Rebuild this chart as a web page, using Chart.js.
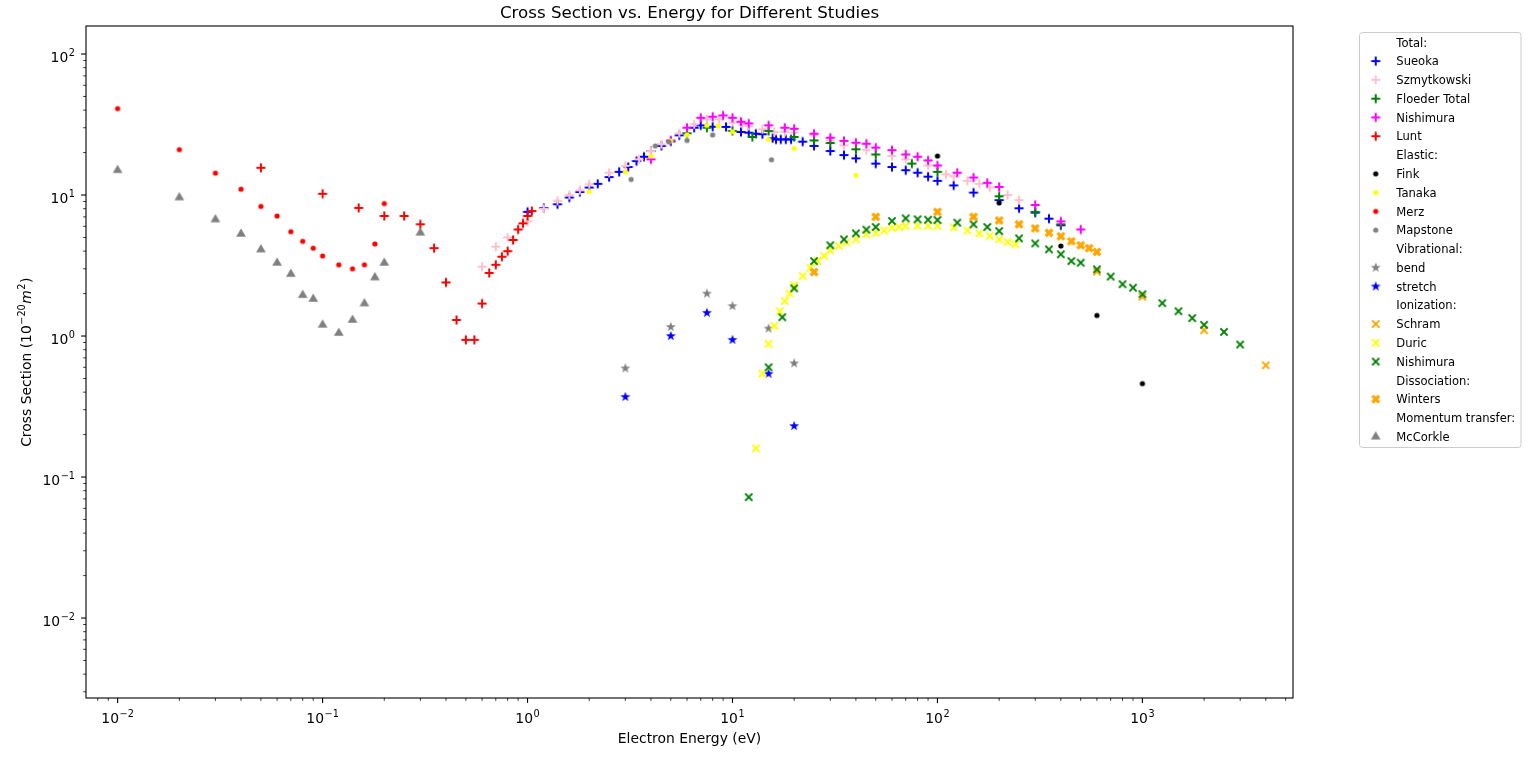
<!DOCTYPE html>
<html>
<head>
<meta charset="utf-8">
<title>Cross Section vs. Energy</title>
<script src="https://cdn.jsdelivr.net/npm/chart.js@4.4.1/dist/chart.umd.min.js"></script>
<style>
  html, body { margin: 0; padding: 0; background: #fff; }
  #wrap { width: 1536px; height: 762px; }
</style>
</head>
<body>
<div id="wrap"><canvas id="chart" width="1536" height="762"></canvas></div>
<script>
// ---- data (energy in eV, cross section in 1e-20 m^2) ----
const sueokaE = [1.0, 1.2, 1.4, 1.6, 1.8, 2.0, 2.2, 2.5, 2.8, 3.1, 3.4, 3.7, 4.0, 4.5, 5.0, 5.5, 6.5, 7.0, 8.0, 9.3, 11, 12, 13, 14, 15.7, 16.3, 17.2, 18.2, 19.3, 22, 25, 30, 35, 40, 50, 60, 70, 80, 90, 100, 120, 150, 200, 250, 300, 350, 400];
const sueokaQ = [7.6, 8.1, 8.6, 9.6, 10.5, 11.3, 12.0, 13.4, 14.6, 15.8, 17.4, 18.7, 20.5, 22.3, 24.0, 26.5, 30.0, 31.2, 30.5, 30.4, 28.0, 27.7, 27.2, 27.0, 25.3, 24.8, 24.8, 24.8, 24.8, 23.9, 22.3, 20.5, 19.2, 18.2, 16.7, 15.8, 15.0, 14.4, 13.5, 12.6, 11.7, 10.4, 9.2, 8.05, 7.5, 6.8, 6.1];

const szmytE = [0.6, 0.7, 0.8, 1.0, 1.2, 1.4, 1.6, 1.8, 2.0, 2.5, 3.0, 3.5, 4.0, 4.5, 5.5, 6.5, 7.5, 8.6, 10, 11.2, 12, 14, 16, 18, 20, 25, 30, 35, 45, 60, 70, 90, 110, 120, 140, 160, 180, 220, 250];
const szmytQ = [3.1, 4.3, 5.0, 6.5, 8.0, 9.1, 10.0, 10.8, 11.9, 14.4, 16.1, 17.9, 20.5, 22.9, 27.4, 31.7, 34.4, 34.4, 32.6, 31.7, 30.9, 29.3, 28.0, 28.0, 27.7, 26.5, 24.4, 22.5, 20.8, 18.9, 17.9, 16.2, 14.0, 13.6, 12.6, 12.0, 11.3, 10.0, 9.2];

const floederE = [6, 7.5, 10, 12.5, 15, 20, 25, 30, 40, 50, 75, 100, 200, 300, 400];
const floederQ = [27.4, 30, 28.5, 25.8, 28.5, 25.8, 24.4, 23.4, 21.1, 19.4, 16.7, 14.6, 9.8, 7.6, 6.2];

const nishTotE = [4, 5, 6, 7, 8, 9, 10, 11, 12, 15, 18, 20, 25, 30, 35, 40, 45, 50, 60, 70, 80, 90, 100, 125, 150, 175, 200, 300, 400, 500];
const nishTotQ = [17.9, 24.4, 30, 35.3, 35.9, 36.7, 35.3, 33.1, 32.2, 31.2, 30, 29.5, 27.2, 25.5, 24.2, 23.5, 23.1, 21.7, 20.8, 19.4, 18.7, 17.6, 16.2, 14.4, 13.3, 12.2, 11.4, 8.5, 6.5, 5.7];

const luntE = [0.05, 0.1, 0.15, 0.2, 0.25, 0.3, 0.35, 0.4, 0.45, 0.5, 0.55, 0.6, 0.65, 0.7, 0.75, 0.8, 0.85, 0.9, 0.95, 1.0, 1.05];
const luntQ = [15.6, 10.2, 8.1, 7.1, 7.1, 6.2, 4.2, 2.4, 1.3, 0.94, 0.94, 1.7, 2.8, 3.2, 3.65, 4.0, 4.8, 5.7, 6.3, 7.1, 7.7];

const finkE = [100, 200, 400, 600, 1000];
const finkQ = [18.9, 8.8, 4.35, 1.4, 0.46];

const tanakaE = [2, 3, 4, 5, 6, 7.5, 8.5, 10, 15, 20, 40];
const tanakaQ = [10.6, 14.6, 18.9, 24.2, 26.7, 31.2, 30.9, 28.1, 24.8, 21.4, 13.8];

const merzE = [0.01, 0.02, 0.03, 0.04, 0.05, 0.06, 0.07, 0.08, 0.09, 0.1, 0.12, 0.14, 0.16, 0.18, 0.2];
const merzQ = [41, 21, 14.3, 11, 8.3, 7.1, 5.5, 4.7, 4.2, 3.7, 3.2, 3.0, 3.2, 4.5, 8.7];

const mapstoneE = [3.2, 4.2, 4.9, 6, 8, 15.5];
const mapstoneQ = [12.9, 22.3, 23.8, 24.4, 26.7, 17.8];

const bendE = [3, 5, 7.5, 10, 15, 20];
const bendQ = [0.59, 1.16, 2.0, 1.63, 1.13, 0.64];

const stretchE = [3, 5, 7.5, 10, 15, 20];
const stretchQ = [0.37, 1.0, 1.46, 0.94, 0.54, 0.23];

const schramE = [600, 1000, 2000, 4000];
const schramQ = [2.86, 1.9, 1.1, 0.62];

const duricE = [13, 14, 15, 16, 17, 18, 19, 20, 22, 24, 26, 28, 30, 33, 36, 40, 45, 50, 55, 60, 65, 70, 80, 90, 100, 120, 140, 160, 180, 200, 220, 240];
const duricQ = [0.16, 0.54, 0.88, 1.18, 1.5, 1.77, 2.0, 2.3, 2.66, 3.05, 3.4, 3.7, 4.05, 4.35, 4.6, 4.85, 5.26, 5.4, 5.6, 5.86, 5.93, 6.03, 6.03, 6.03, 6.03, 5.9, 5.6, 5.34, 5.12, 4.85, 4.64, 4.47];

const nishIonE = [12, 15, 17.5, 20, 25, 30, 35, 40, 45, 50, 60, 70, 80, 90, 100, 125, 150, 175, 200, 250, 300, 350, 400, 450, 500, 600, 700, 800, 900, 1000, 1250, 1500, 1750, 2000, 2500, 3000];
const nishIonQ = [0.072, 0.60, 1.36, 2.18, 3.40, 4.40, 4.85, 5.35, 5.68, 5.93, 6.54, 6.83, 6.73, 6.68, 6.65, 6.37, 6.2, 5.93, 5.55, 4.93, 4.54, 4.12, 3.80, 3.40, 3.31, 2.97, 2.64, 2.33, 2.2, 1.98, 1.71, 1.50, 1.34, 1.20, 1.07, 0.87];

const wintersE = [25, 50, 100, 150, 200, 250, 300, 350, 400, 450, 500, 550, 600];
const wintersQ = [2.84, 7.0, 7.6, 7.0, 6.6, 6.2, 5.8, 5.4, 5.1, 4.7, 4.4, 4.2, 3.95];

const mccorkleE = [0.01, 0.02, 0.03, 0.04, 0.05, 0.06, 0.07, 0.08, 0.09, 0.1, 0.12, 0.14, 0.16, 0.18, 0.2, 0.3];
const mccorkleQ = [15, 9.6, 6.7, 5.3, 4.1, 3.3, 2.75, 1.95, 1.83, 1.2, 1.05, 1.3, 1.7, 2.6, 3.3, 5.4];

const xTickExps = [-2, -1, 0, 1, 2, 3];
const yTickExps = [-2, -1, 0, 1, 2];

// ---- marker sprites (matplotlib-like) ----
function marker(kind, color) {
  const c = document.createElement('canvas');
  c.width = 16; c.height = 16;
  const g = c.getContext('2d');
  g.translate(8, 8);
  g.fillStyle = color;
  g.strokeStyle = color;
  g.beginPath();
  if (kind === 'plus') {
    g.lineWidth = 2;
    g.moveTo(-4.5, 0); g.lineTo(4.5, 0);
    g.moveTo(0, -4.5); g.lineTo(0, 4.5);
    g.stroke();
  } else if (kind === 'x') {
    g.lineWidth = 2;
    g.moveTo(-3.6, -3.6); g.lineTo(3.6, 3.6);
    g.moveTo(-3.6, 3.6); g.lineTo(3.6, -3.6);
    g.stroke();
  } else if (kind === 'X') {
    g.lineWidth = 3.4;
    g.moveTo(-3.4, -3.4); g.lineTo(3.4, 3.4);
    g.moveTo(-3.4, 3.4); g.lineTo(3.4, -3.4);
    g.stroke();
  } else if (kind === 'dot') {
    g.arc(0, 0, 2.6, 0, Math.PI * 2);
    g.fill();
  } else if (kind === 'tri') {
    const r = 5.6;
    g.moveTo(0, -r);
    g.lineTo(r * Math.sin(Math.PI / 3), r / 2);
    g.lineTo(-r * Math.sin(Math.PI / 3), r / 2);
    g.closePath();
    g.fill();
  } else if (kind === 'star') {
    for (let i = 0; i < 10; i++) {
      const rr = i % 2 ? 2.1 : 5.2;
      const a = -Math.PI / 2 + i * Math.PI / 5;
      if (i === 0) g.moveTo(rr * Math.cos(a), rr * Math.sin(a));
      else g.lineTo(rr * Math.cos(a), rr * Math.sin(a));
    }
    g.closePath();
    g.fill();
  }
  return c;
}

// legend order = plotting order
const series = [
  { head: 'Total:' },
  { label: 'Sueoka', e: sueokaE, q: sueokaQ, kind: 'plus', color: '#0000ff' },
  { label: 'Szmytkowski', e: szmytE, q: szmytQ, kind: 'plus', color: '#ffc0cb' },
  { label: 'Floeder Total', e: floederE, q: floederQ, kind: 'plus', color: '#008000' },
  { label: 'Nishimura', e: nishTotE, q: nishTotQ, kind: 'plus', color: '#ff00ff' },
  { label: 'Lunt', e: luntE, q: luntQ, kind: 'plus', color: '#ff0000' },
  { head: 'Elastic:' },
  { label: 'Fink', e: finkE, q: finkQ, kind: 'dot', color: '#000000' },
  { label: 'Tanaka', e: tanakaE, q: tanakaQ, kind: 'dot', color: '#ffff00' },
  { label: 'Merz', e: merzE, q: merzQ, kind: 'dot', color: '#ff0000' },
  { label: 'Mapstone', e: mapstoneE, q: mapstoneQ, kind: 'dot', color: '#808080' },
  { head: 'Vibrational:' },
  { label: 'bend', e: bendE, q: bendQ, kind: 'star', color: '#808080' },
  { label: 'stretch', e: stretchE, q: stretchQ, kind: 'star', color: '#0000ff' },
  { head: 'Ionization:' },
  { label: 'Schram', e: schramE, q: schramQ, kind: 'x', color: '#ffa500' },
  { label: 'Duric', e: duricE, q: duricQ, kind: 'x', color: '#ffff00' },
  { label: 'Nishimura', e: nishIonE, q: nishIonQ, kind: 'x', color: '#008000' },
  { head: 'Dissociation:' },
  { label: 'Winters', e: wintersE, q: wintersQ, kind: 'X', color: '#ffa500' },
  { head: 'Momentum transfer:' },
  { label: 'McCorkle', e: mccorkleE, q: mccorkleQ, kind: 'tri', color: '#808080' }
];
series.forEach(s => { if (!s.head) s.sprite = marker(s.kind, s.color); });

const plotted = series.filter(s => !s.head);
const datasets = plotted.map((s, i) => ({
  label: s.label,
  data: s.e.map((x, j) => ({ x: x, y: s.q[j] })),
  pointStyle: s.sprite,
  pointRadius: 5,
  pointHoverRadius: 5,
  showLine: false,
  order: plotted.length - i   // later series drawn on top, like matplotlib
}));

const FONT = '"DejaVu Sans", "Liberation Sans", sans-serif';

function powLabel(ctx, exp, x, y, align) {
  const base = '10';
  const sup = exp < 0 ? '\u2212' + (-exp) : String(exp);
  ctx.font = '13.9px ' + FONT;
  const wb = ctx.measureText(base).width;
  ctx.font = '9.7px ' + FONT;
  const ws = ctx.measureText(sup).width;
  const total = wb + ws + 0.6;
  const left = align === 'center' ? x - total / 2 : x - total;
  ctx.textAlign = 'left';
  ctx.textBaseline = 'alphabetic';
  ctx.font = '13.9px ' + FONT;
  ctx.fillText(base, left, y);
  ctx.font = '9.7px ' + FONT;
  ctx.fillText(sup, left + wb + 0.6, y - 5.6);
}

const decor = {
  id: 'decor',
  afterDraw(chart) {
    const ctx = chart.ctx;
    const area = chart.chartArea;
    const xs = chart.scales.x, ys = chart.scales.y;
    ctx.save();
    ctx.fillStyle = '#000';
    ctx.strokeStyle = '#000';

    // frame
    ctx.lineWidth = 1.1;
    ctx.strokeRect(area.left, area.top, area.right - area.left, area.bottom - area.top);

    // ticks
    const tick = (px, isX, len, w) => {
      ctx.lineWidth = w;
      ctx.beginPath();
      if (isX) { ctx.moveTo(px, area.bottom); ctx.lineTo(px, area.bottom + len); }
      else { ctx.moveTo(area.left, px); ctx.lineTo(area.left - len, px); }
      ctx.stroke();
    };
    for (let d = -3; d <= 4; d++) {
      for (let m = 1; m <= 9; m++) {
        const v = m * Math.pow(10, d);
        if (v >= xs.min && v <= xs.max) tick(xs.getPixelForValue(v), true, m === 1 ? 4.9 : 2.8, m === 1 ? 1.1 : 0.8);
        if (v >= ys.min && v <= ys.max) tick(ys.getPixelForValue(v), false, m === 1 ? 4.9 : 2.8, m === 1 ? 1.1 : 0.8);
      }
    }
    xTickExps.forEach(e => powLabel(ctx, e, xs.getPixelForValue(Math.pow(10, e)), area.bottom + 25, 'center'));
    yTickExps.forEach(e => powLabel(ctx, e, 75, ys.getPixelForValue(Math.pow(10, e)) + 8, 'right'));

    // axis titles
    const cx = (area.left + area.right) / 2;
    ctx.textAlign = 'center';
    ctx.textBaseline = 'alphabetic';
    ctx.font = '13.9px ' + FONT;
    ctx.fillText('Electron Energy (eV)', cx, 743);
    ctx.font = '16.67px ' + FONT;
    ctx.fillText('Cross Section vs. Energy for Different Studies', cx, 18);

    // y title with mathtext-like pieces
    const parts = [
      ['Cross Section (10', '13.9px ' + FONT, 0],
      ['\u221220', '9.7px ' + FONT, -5.6],
      ['m', 'oblique 13.9px ' + FONT, 0],
      ['2', '9.7px ' + FONT, -5.6],
      [')', '13.9px ' + FONT, 0]
    ];
    let tw = 0;
    parts.forEach(p => { ctx.font = p[1]; p.push(ctx.measureText(p[0]).width); tw += p[3] + 0.5; });
    ctx.translate(31, (area.top + area.bottom) / 2);
    ctx.rotate(-Math.PI / 2);
    ctx.textAlign = 'left';
    let px = -tw / 2;
    parts.forEach(p => { ctx.font = p[1]; ctx.fillText(p[0], px, p[2]); px += p[3] + 0.5; });
    ctx.setTransform(1, 0, 0, 1, 0, 0);

    // legend
    const lx = 1359.5, ly = 32.5, lw = 161.5, lh = 415;
    ctx.beginPath();
    ctx.roundRect(lx, ly, lw, lh, 3);
    ctx.fillStyle = 'rgba(255,255,255,0.8)';
    ctx.fill();
    ctx.strokeStyle = '#cccccc';
    ctx.lineWidth = 1;
    ctx.stroke();
    ctx.fillStyle = '#000';
    ctx.font = '11.57px ' + FONT;
    ctx.textAlign = 'left';
    const rowGap = (436.7 - 42.3) / (series.length - 1);
    series.forEach((s, i) => {
      const y = 42.3 + i * rowGap;
      if (s.sprite) ctx.drawImage(s.sprite, 1375.7 - 8, y - 8);
      ctx.fillText(s.head || s.label, 1396.3, y + 4.2);
    });
    ctx.restore();
  }
};

new Chart(document.getElementById('chart'), {
  type: 'scatter',
  data: { datasets: datasets },
  options: {
    responsive: false,
    animation: false,
    devicePixelRatio: 1,
    events: [],
    layout: { padding: { left: 86, right: 243, top: 26, bottom: 64 } },
    plugins: {
      legend: { display: false },
      tooltip: { enabled: false },
      title: { display: false }
    },
    scales: {
      x: { type: 'logarithmic', display: false, min: 0.00701, max: 5430 },
      y: { type: 'logarithmic', display: false, min: 0.00271, max: 158 }
    }
  },
  plugins: [decor]
});
</script>
</body>
</html>
